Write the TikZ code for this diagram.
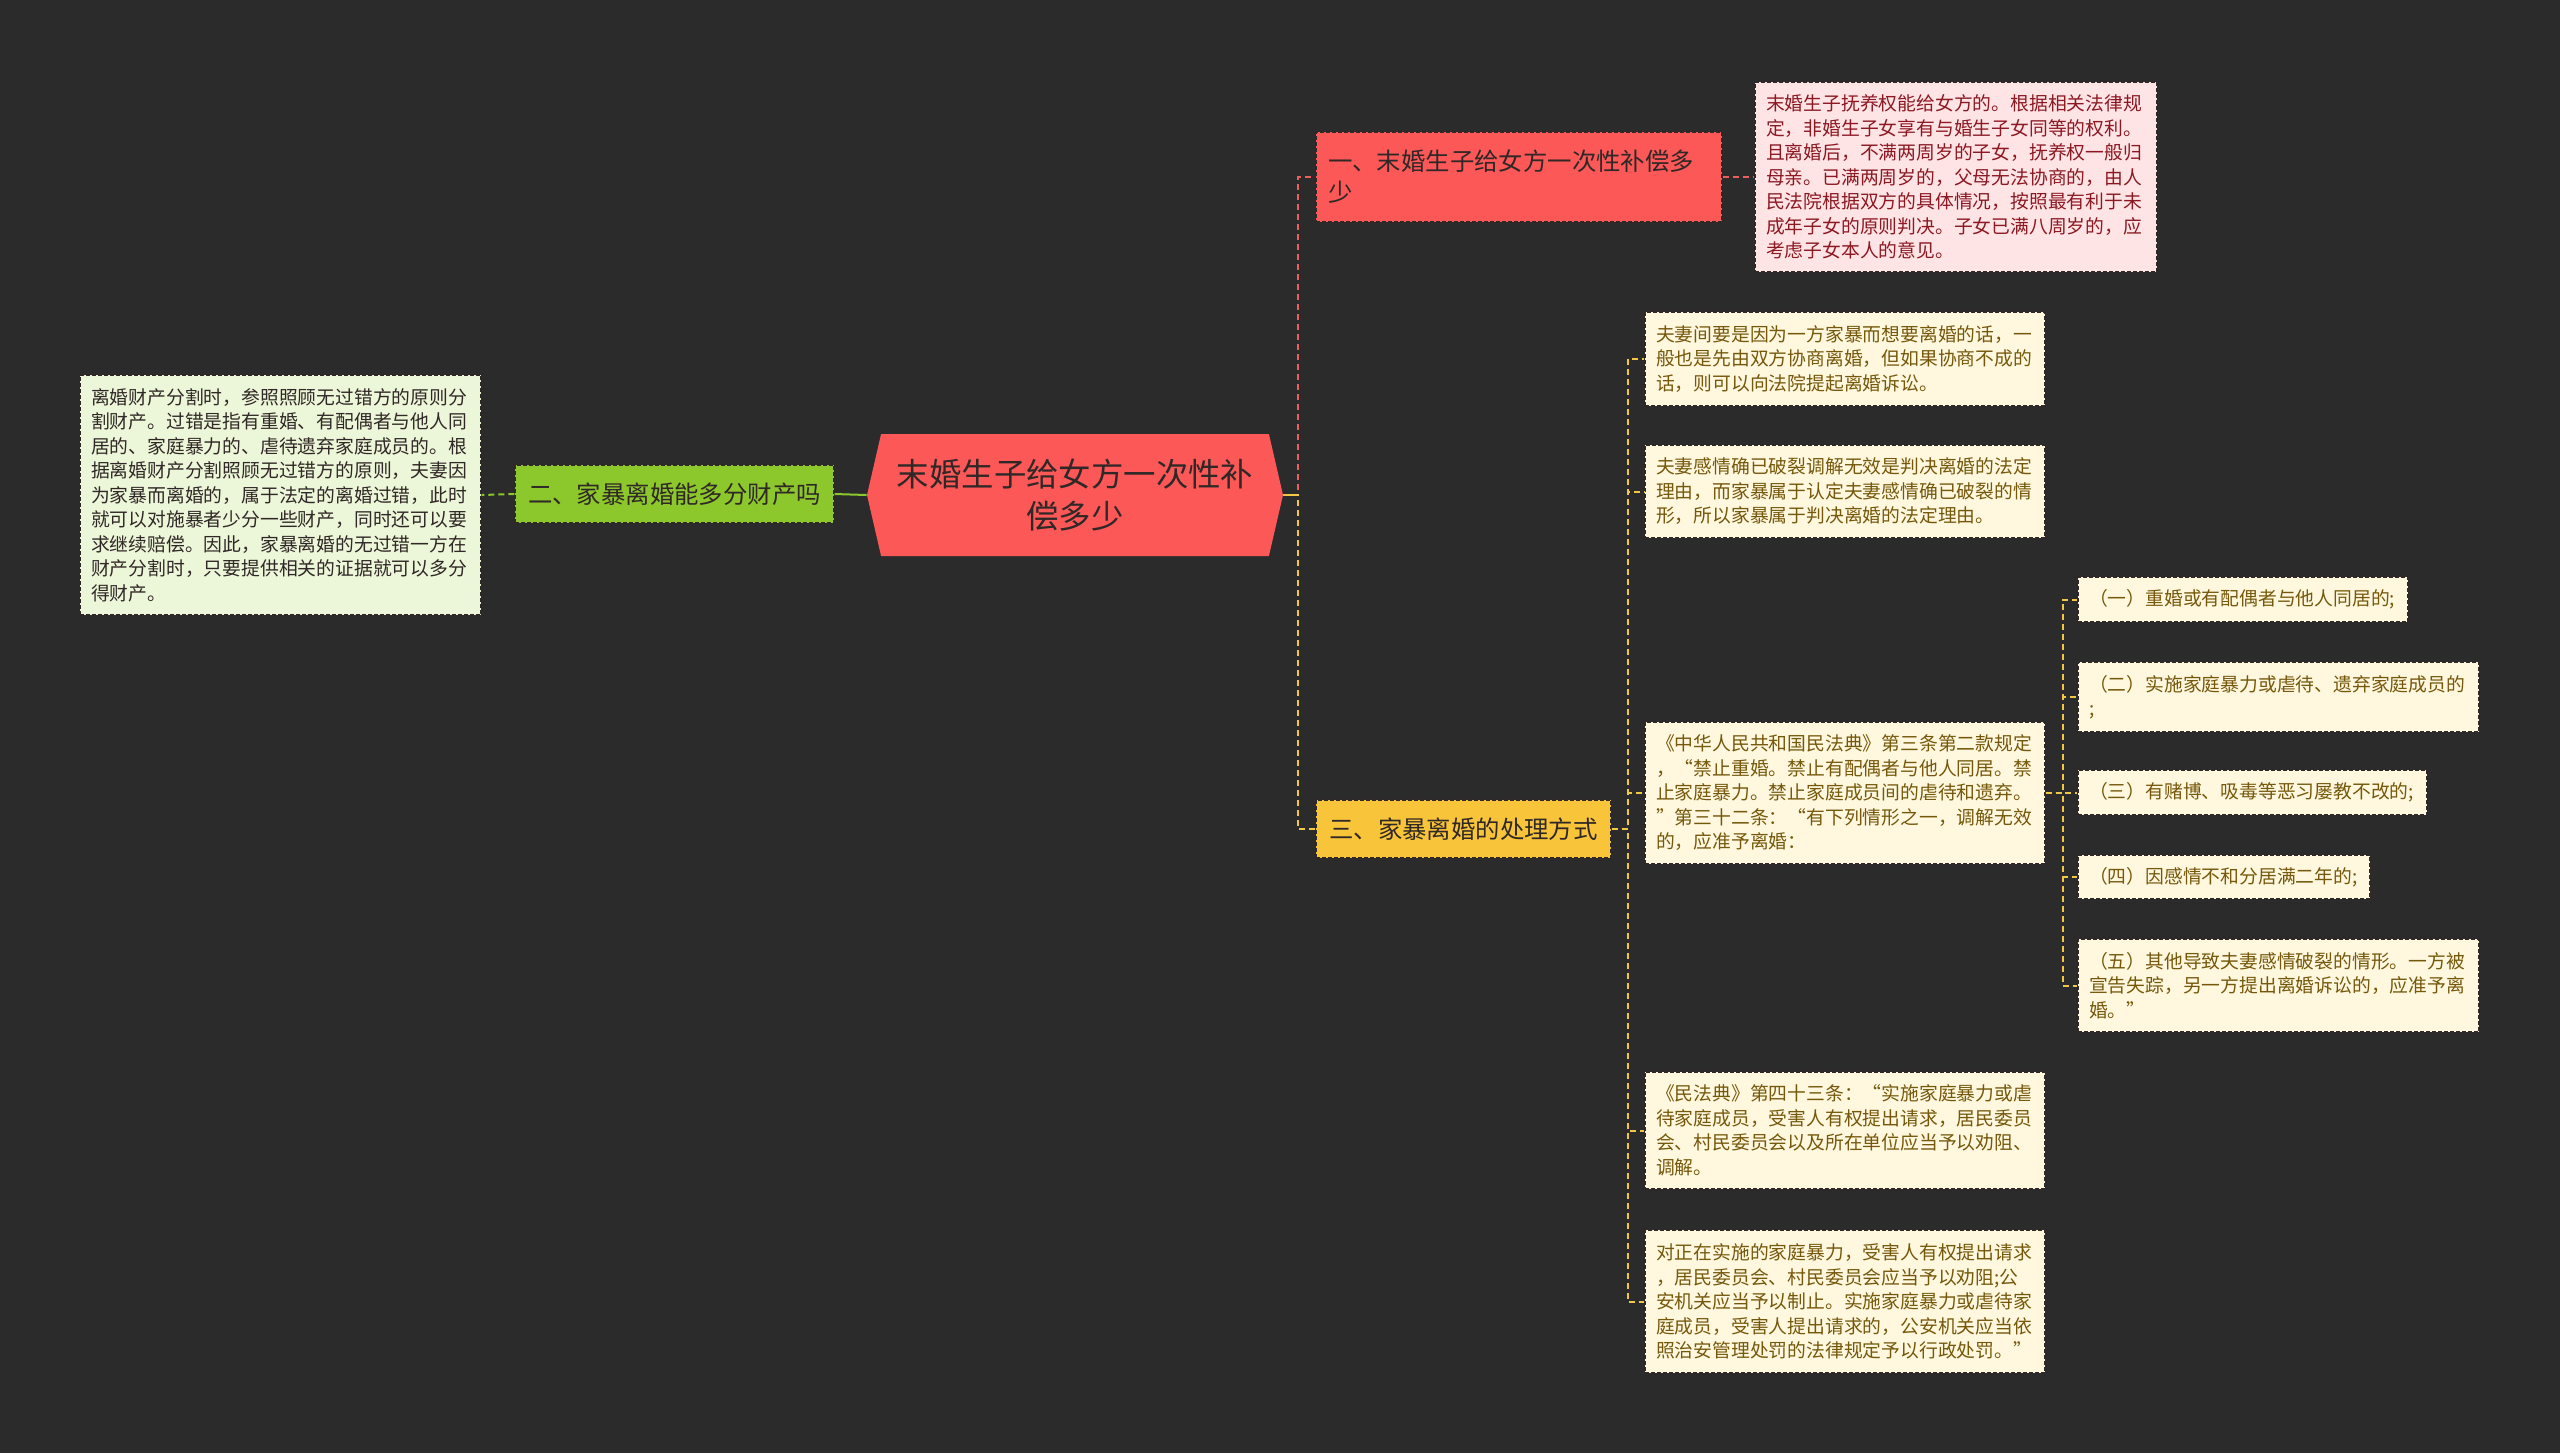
\documentclass[tikz,border=0pt]{standalone}
\usepackage{fontspec}
\setmainfont{Noto Sans CJK SC}
\usepackage{tikz}
\usetikzlibrary{shapes.symbols}
\definecolor{bgdark}{RGB}{43,43,43}
\definecolor{rootred}{RGB}{252,88,88}
\definecolor{pinkleaf}{RGB}{255,228,230}
\definecolor{pinktext}{RGB}{140,24,34}
\definecolor{limebox}{RGB}{140,200,44}
\definecolor{limeleaf}{RGB}{236,246,216}
\definecolor{goldbox}{RGB}{248,196,58}
\definecolor{goldleaf}{RGB}{255,248,222}
\definecolor{goldtext}{RGB}{118,88,12}
\definecolor{inkdark}{RGB}{48,40,38}
\definecolor{redline}{RGB}{232,96,96}
\definecolor{limeline}{RGB}{140,200,44}
\definecolor{goldline}{RGB}{240,200,70}
\tikzset{
  rootbox/.style={
    signal, signal to=west and east, signal pointer angle=154,
    fill=rootred, text=inkdark, align=center, inner sep=0pt,
    minimum width=208pt, minimum height=61pt,
    font=\fontsize{16.2}{21}\selectfont
  },
  secbox/.style={
    rectangle, draw=inkdark, dash pattern=on 2pt off 1pt, line width=0.6pt,
    text=inkdark, align=left, inner xsep=6pt, inner ysep=3pt,
    font=\fontsize{12.2}{15.5}\selectfont
  },
  leafbox/.style={
    rectangle, draw=inkdark, dash pattern=on 2pt off 1pt, line width=0.6pt,
    fill=goldleaf, text=goldtext, align=left, inner xsep=5.5pt, inner ysep=3pt,
    font=\fontsize{9.4}{12.25}\selectfont
  },
  link/.style={line width=1pt, dash pattern=on 3pt off 2pt},
  redlink/.style={link, draw=redline},
  limelink/.style={link, draw=limeline},
  goldlink/.style={link, draw=goldline}
}
\begin{document}
\begin{tikzpicture}[x=0.5pt, y=-0.5pt]
\useasboundingbox[fill=bgdark] (0,0) rectangle (2560,1453);
% centre and main branches
\node[rootbox] (root) at (1075,495) {末婚生子给女方一次性补\\偿多少};
\node[secbox, fill=rootred, text width=191pt, minimum height=45pt] (sec1) at (1519,177)
  {一、末婚生子给女方一次性补偿多\\少};
\node[secbox, fill=limebox, text width=147.5pt, align=center, minimum height=29pt] (sec2) at (674.5,494)
  {二、家暴离婚能多分财产吗};
\node[secbox, fill=goldbox, text width=135.5pt, align=center, minimum height=29pt] (sec3) at (1463.5,829)
  {三、家暴离婚的处理方式};
% leaves
\node[leafbox, fill=pinkleaf, text=pinktext, text width=190pt, minimum height=95pt] (custody) at (1956,177)
  {末婚生子抚养权能给女方的。根据相关法律规\\定，非婚生子女享有与婚生子女同等的权利。\\且离婚后，不满两周岁的子女，抚养权一般归\\母亲。已满两周岁的，父母无法协商的，由人\\民法院根据双方的具体情况，按照最有利于未\\成年子女的原则判决。子女已满八周岁的，应\\考虑子女本人的意见。};
\node[leafbox, fill=limeleaf, text=inkdark, text width=189.5pt, minimum height=120pt] (property) at (280.5,495)
  {离婚财产分割时，参照照顾无过错方的原则分\\割财产。过错是指有重婚、有配偶者与他人同\\居的、家庭暴力的、虐待遗弃家庭成员的。根\\据离婚财产分割照顾无过错方的原则，夫妻因\\为家暴而离婚的，属于法定的离婚过错，此时\\就可以对施暴者少分一些财产，同时还可以要\\求继续赔偿。因此，家暴离婚的无过错一方在\\财产分割时，只要提供相关的证据就可以多分\\得财产。};
\node[leafbox, text width=189pt, minimum height=47pt] (consult) at (1845,359)
  {夫妻间要是因为一方家暴而想要离婚的话，一\\般也是先由双方协商离婚，但如果协商不成的\\话，则可以向法院提起离婚诉讼。};
\node[leafbox, text width=189pt, minimum height=46.5pt] (reason) at (1845,491.5)
  {夫妻感情确已破裂调解无效是判决离婚的法定\\理由，而家暴属于认定夫妻感情确已破裂的情\\形，所以家暴属于判决离婚的法定理由。};
\node[leafbox, text width=189pt, minimum height=71pt] (civcode) at (1845,793)
  {《中华人民共和国民法典》第三条第二款规定\\，“禁止重婚。禁止有配偶者与他人同居。禁\\止家庭暴力。禁止家庭成员间的虐待和遗弃。\\”第三十二条：“有下列情形之一，调解无效\\的，应准予离婚：};
\node[leafbox, text width=189pt, minimum height=58.5pt] (art43) at (1845,1130.5)
  {《民法典》第四十三条：“实施家庭暴力或虐\\待家庭成员，受害人有权提出请求，居民委员\\会、村民委员会以及所在单位应当予以劝阻、\\调解。};
\node[leafbox, text width=189pt, minimum height=71.5pt] (police) at (1845,1301.5)
  {对正在实施的家庭暴力，受害人有权提出请求\\，居民委员会、村民委员会应当予以劝阻;公\\安机关应当予以制止。实施家庭暴力或虐待家\\庭成员，受害人提出请求的，公安机关应当依\\照治安管理处罚的法律规定予以行政处罚。”};
% grounds for divorce
\node[leafbox, text width=154pt, minimum height=22.5pt] (case1) at (2243,599.5)
  {（一）重婚或有配偶者与他人同居的;};
\node[leafbox, text width=189.5pt, minimum height=35pt] (case2) at (2278.5,697)
  {（二）实施家庭暴力或虐待、遗弃家庭成员的\\;};
\node[leafbox, text width=163.5pt, minimum height=22.5pt] (case3) at (2252.5,792.5)
  {（三）有赌博、吸毒等恶习屡教不改的;};
\node[leafbox, text width=135pt, minimum height=22pt] (case4) at (2224,877)
  {（四）因感情不和分居满二年的;};
\node[leafbox, text width=189.5pt, minimum height=46.5pt] (case5) at (2278.5,985.5)
  {（五）其他导致夫妻感情破裂的情形。一方被\\宣告失踪，另一方提出离婚诉讼的，应准予离\\婚。”};
% connectors
\draw[redlink] (root.east) -- ++(15,0) |- (sec1.west);
\draw[goldlink] (root.east) -- ++(15,0) |- (sec3.west);
\draw[line width=1pt, goldline] (root.east) -- ++(15,0);
\draw[line width=1pt, limeline] (root.west) -- (sec2.east);
\draw[limelink] (sec2.west) -- (property.east);
\draw[redlink] (sec1.east) -- (custody.west);
\foreach \leaf in {consult,reason,civcode,art43,police}
  \draw[goldlink] (sec3.east) -- ++(16,0) |- (\leaf.west);
\foreach \leaf in {case1,case2,case3,case4,case5}
  \draw[goldlink] (civcode.east) -- ++(17,0) |- (\leaf.west);
\end{tikzpicture}
\end{document}
